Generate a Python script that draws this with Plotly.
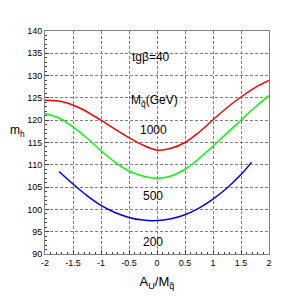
import plotly.graph_objects as go

x_red = [-2, -1.75, -1.5, -1.25, -1, -0.75, -0.5, -0.25, 0, 0.25, 0.5, 0.75, 1, 1.25, 1.5, 1.75, 2]
y_red = [124.5, 124.3, 123.4, 121.9, 120.0, 118.0, 116.1, 114.4, 113.3, 113.7, 115.0, 117.3, 120.1, 122.8, 125.2, 127.3, 128.9]

x_green = [-2, -1.75, -1.5, -1.25, -1, -0.75, -0.5, -0.25, 0, 0.25, 0.5, 0.75, 1, 1.25, 1.5, 1.75, 2]
y_green = [121.5, 120.5, 118.5, 116.0, 113.2, 110.6, 108.6, 107.5, 107.0, 107.5, 109.0, 111.4, 114.2, 117.1, 120.0, 122.9, 125.5]

x_blue = [-1.75, -1.5, -1.25, -1, -0.75, -0.5, -0.25, 0, 0.25, 0.5, 0.75, 1, 1.25, 1.5, 1.69]
y_blue = [108.5, 105.7, 103.1, 100.9, 99.3, 98.2, 97.6, 97.5, 97.9, 98.8, 100.3, 102.3, 104.8, 107.8, 110.6]

labels = ["1000", "500", "200"]
label_y = [117.8, 102.9, 92.8]

x_ticks = [-2, -1.5, -1, -0.5, 0, 0.5, 1, 1.5, 2]
x_ticktext = ["-2", "-1.5", "-1", "-0.5", "0", "0.5", "1", "1.5", "2"]

fig = go.Figure()
for xs, ys, c in [(x_red, y_red, "#ff0000"), (x_green, y_green, "#00ff00"), (x_blue, y_blue, "#0000ff")]:
    fig.add_trace(go.Scatter(x=xs, y=ys, mode="lines", line=dict(color=c, width=1.5, shape="spline", smoothing=1.0),
                             showlegend=False))

font = "Liberation Sans, Arial, sans-serif"
for t, yv in zip(labels, label_y):
    fig.add_annotation(x=-0.07, y=yv, text=t, showarrow=False, font=dict(size=12, color="black", family=font))
fig.add_annotation(x=-0.1, y=134.2, text="tgβ=40", showarrow=False, font=dict(size=12, color="black", family=font))
fig.add_annotation(x=-0.04, y=124.3, text="M<sub>q̃</sub>(GeV)", showarrow=False, font=dict(size=12, color="black", family=font))
fig.add_annotation(x=-0.165, y=0.55, xref="paper", yref="paper", text="m<sub>h</sub>", showarrow=False,
                   font=dict(size=12, color="black", family=font))

axis_common = dict(showline=True, linecolor="#808080", linewidth=1, mirror=True,
                   showgrid=True, gridcolor="#808080", griddash="3px,2px", gridwidth=1,
                   ticks="inside", ticklen=4, tickcolor="#404040", zeroline=False,
                   tickfont=dict(size=9, color="black", family=font))

fig.update_xaxes(range=[-2, 2], tickvals=x_ticks, ticktext=x_ticktext,
                 minor=dict(dtick=0.1, ticks="inside", ticklen=2, tickcolor="#404040", showgrid=False),
                 title=dict(text="A<sub>U</sub>/M<sub>q̃</sub>", font=dict(size=13, color="black", family=font), standoff=10),
                 **axis_common)
fig.update_yaxes(range=[90, 140], dtick=5,
                 minor=dict(dtick=1, ticks="inside", ticklen=2, tickcolor="#404040", showgrid=False),
                 **axis_common)

fig.update_layout(width=292, height=292, margin=dict(l=37, r=31, t=23, b=46),
                  paper_bgcolor="white", plot_bgcolor="white")
fig.write_html("out.html")
